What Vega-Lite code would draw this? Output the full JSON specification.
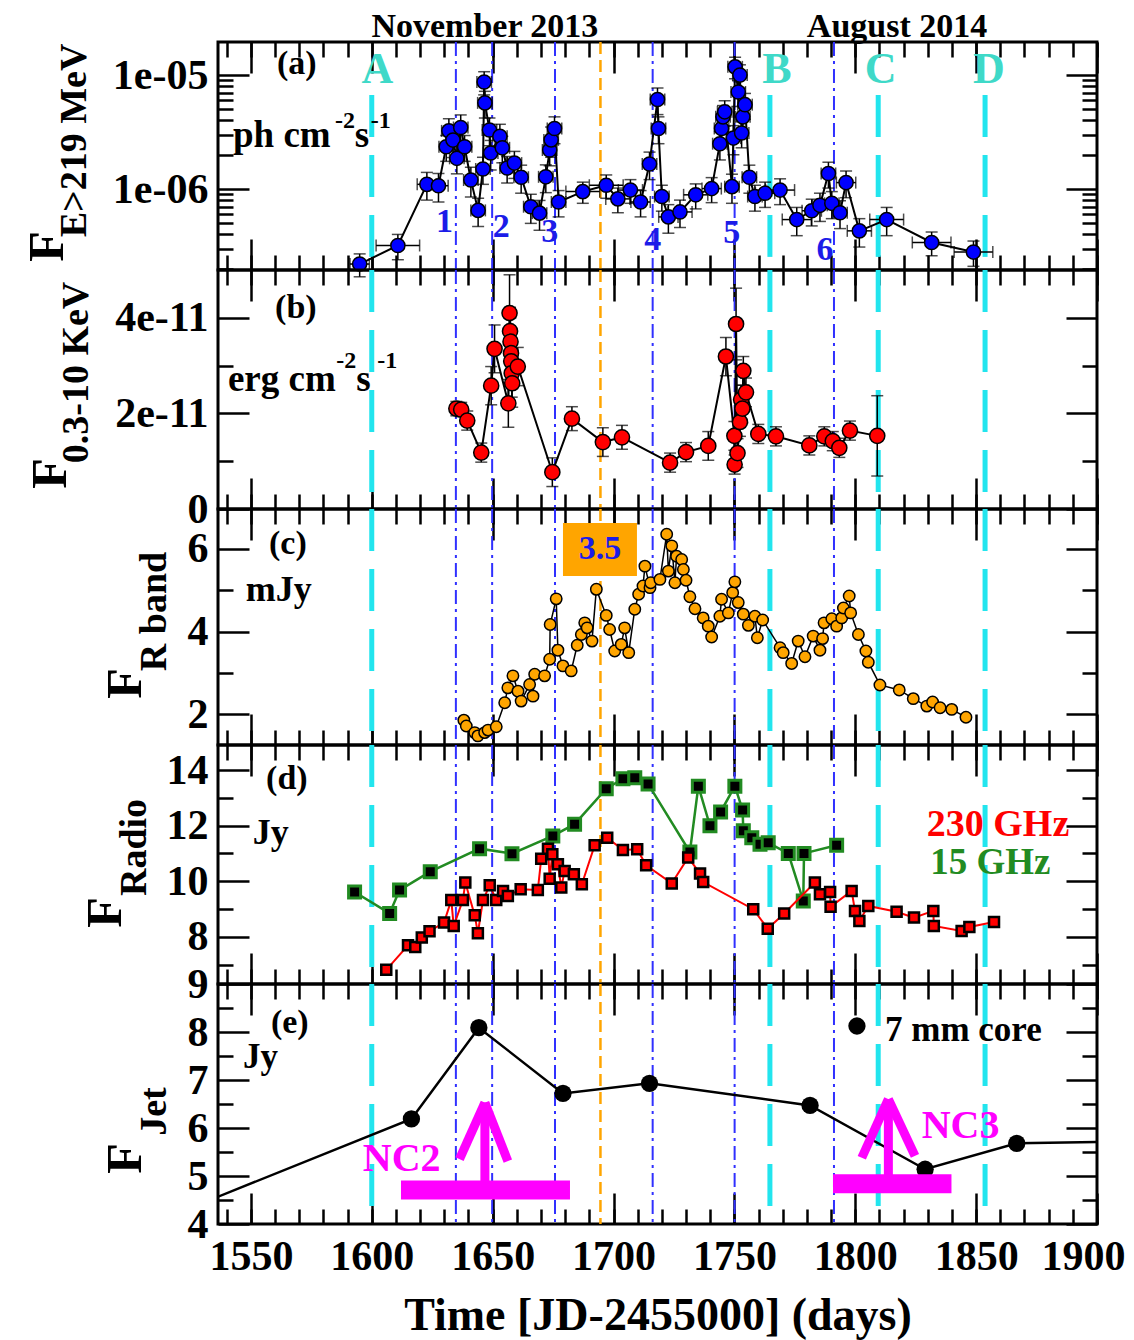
{
"$schema":"https://vega.github.io/schema/vega-lite/v6.json",
"background":"white",
"padding":{"left":20,"top":8,"right":5,"bottom":0},
"spacing":0,
"bounds":"flush",
"config":{
 "view":{"stroke":"black","strokeWidth":3},
 "axis":{"domain":false,"grid":false,"tickColor":"black","tickWidth":2.5,"labelFont":"Liberation Serif","labelFontWeight":"bold","labelFontSize":42,"labelColor":"black","labelOverlap":false,"labelFlush":false,"labelBound":false,"titleFont":"Liberation Serif","titleFontWeight":"bold","titleColor":"black"},
 "text":{"font":"Liberation Serif","fontWeight":"bold"}
},
"datasets":{
 "cyan":[{"x":1600},{"x":1764.7},{"x":1809.5},{"x":1853.7}],
 "blue":[{"x":1634.8},{"x":1649.8},{"x":1675.8},{"x":1716.2},{"x":1750.1},{"x":1791.2}],
 "orange":[{"x":1694.6}],
 "a":[
{"x":1595.0,"y":2.2e-7,"ex":4,"ey":0.5e-7},{"x":1610.8,"y":3.2e-7,"ex":9,"ey":0.8e-7},{"x":1622.8,"y":1.1e-6,"ex":4,"ey":0.3e-6},{"x":1627.6,"y":1.07e-6,"ex":4,"ey":0.3e-6},
{"x":1630.8,"y":2.35e-6,"ex":3,"ey":0.6e-6},{"x":1631.9,"y":3.24e-6,"ex":3,"ey":0.9e-6},{"x":1633.6,"y":2.69e-6,"ex":3,"ey":0.8e-6},{"x":1635.2,"y":1.86e-6,"ex":3,"ey":0.5e-6},
{"x":1636.8,"y":3.47e-6,"ex":3,"ey":1.0e-6},{"x":1638.4,"y":2.35e-6,"ex":3,"ey":0.6e-6},{"x":1641.0,"y":1.2e-6,"ex":3,"ey":0.35e-6},{"x":1644.0,"y":6.5e-7,"ex":3,"ey":1.8e-7},
{"x":1646.0,"y":1.5e-6,"ex":3,"ey":0.4e-6},{"x":1646.5,"y":8.7e-6,"ex":3,"ey":2.0e-6},{"x":1646.8,"y":5.7e-6,"ex":3,"ey":1.5e-6},{"x":1648.7,"y":3.3e-6,"ex":3,"ey":0.9e-6},
{"x":1649.2,"y":2.07e-6,"ex":3,"ey":0.6e-6},{"x":1653.0,"y":2.9e-6,"ex":3,"ey":0.8e-6},{"x":1654.0,"y":2.3e-6,"ex":3,"ey":0.6e-6},{"x":1656.0,"y":1.53e-6,"ex":3,"ey":0.4e-6},
{"x":1659.0,"y":1.69e-6,"ex":3,"ey":0.45e-6},{"x":1661.8,"y":1.27e-6,"ex":3,"ey":0.35e-6},{"x":1665.8,"y":7.0e-7,"ex":3,"ey":2.0e-7},{"x":1669.4,"y":6.15e-7,"ex":3,"ey":1.8e-7},
{"x":1672.0,"y":1.28e-6,"ex":3,"ey":0.35e-6},{"x":1673.6,"y":2.2e-6,"ex":3,"ey":0.6e-6},{"x":1674.2,"y":2.7e-6,"ex":3,"ey":0.8e-6},{"x":1675.6,"y":3.4e-6,"ex":3,"ey":0.9e-6},
{"x":1677.3,"y":7.7e-7,"ex":3,"ey":2.0e-7},{"x":1687.3,"y":9.5e-7,"ex":7,"ey":2.0e-7},{"x":1697.0,"y":1.08e-6,"ex":7,"ey":2.5e-7},{"x":1701.8,"y":8.2e-7,"ex":5,"ey":2.0e-7},
{"x":1707.0,"y":9.8e-7,"ex":5,"ey":2.3e-7},{"x":1711.2,"y":7.7e-7,"ex":4,"ey":2.0e-7},{"x":1714.9,"y":1.66e-6,"ex":3,"ey":0.45e-6},{"x":1718.2,"y":6.1e-6,"ex":3,"ey":1.6e-6},
{"x":1718.6,"y":3.4e-6,"ex":3,"ey":0.9e-6},{"x":1720.0,"y":8.6e-7,"ex":3,"ey":2.2e-7},{"x":1722.7,"y":5.7e-7,"ex":4,"ey":1.6e-7},{"x":1727.5,"y":6.3e-7,"ex":5,"ey":1.7e-7},
{"x":1734.0,"y":8.9e-7,"ex":5,"ey":2.2e-7},{"x":1740.6,"y":1.01e-6,"ex":4,"ey":2.5e-7},{"x":1744.0,"y":2.5e-6,"ex":3,"ey":0.7e-6},{"x":1744.7,"y":3.4e-6,"ex":3,"ey":0.9e-6},
{"x":1745.3,"y":4.3e-6,"ex":3,"ey":1.1e-6},{"x":1746.0,"y":4.76e-6,"ex":3,"ey":1.2e-6},{"x":1749.0,"y":1.05e-6,"ex":3,"ey":0.3e-6},{"x":1749.6,"y":2.8e-6,"ex":3,"ey":0.8e-6},
{"x":1750.3,"y":1.18e-5,"ex":3,"ey":2.5e-6},{"x":1751.6,"y":7.1e-6,"ex":3,"ey":1.8e-6},{"x":1752.3,"y":1.0e-5,"ex":3,"ey":2.3e-6},{"x":1753.0,"y":3.1e-6,"ex":3,"ey":0.8e-6},
{"x":1753.5,"y":4.3e-6,"ex":3,"ey":1.1e-6},{"x":1754.4,"y":5.5e-6,"ex":3,"ey":1.4e-6},{"x":1756.2,"y":1.27e-6,"ex":3,"ey":0.35e-6},{"x":1758.5,"y":8.6e-7,"ex":3,"ey":2.2e-7},
{"x":1762.7,"y":9.2e-7,"ex":4,"ey":2.3e-7},{"x":1768.9,"y":9.8e-7,"ex":6,"ey":2.5e-7},{"x":1775.8,"y":5.4e-7,"ex":6,"ey":1.5e-7},{"x":1782.0,"y":6.45e-7,"ex":4,"ey":1.7e-7},
{"x":1785.4,"y":7.2e-7,"ex":3,"ey":2.0e-7},{"x":1788.9,"y":1.37e-6,"ex":3,"ey":0.35e-6},{"x":1790.3,"y":7.5e-7,"ex":3,"ey":2.0e-7},{"x":1793.7,"y":6.2e-7,"ex":3,"ey":1.7e-7},
{"x":1796.2,"y":1.14e-6,"ex":4,"ey":0.3e-6},{"x":1801.7,"y":4.3e-7,"ex":5,"ey":1.2e-7},{"x":1813.0,"y":5.4e-7,"ex":7,"ey":1.5e-7},{"x":1831.6,"y":3.4e-7,"ex":8,"ey":0.8e-7},
{"x":1848.9,"y":2.8e-7,"ex":8,"ey":0.7e-7}],
 "b":[
{"x":1635.0,"y":2.1e-11,"ey":1.5e-12},{"x":1637.0,"y":2.08e-11,"ey":1.5e-12},{"x":1639.5,"y":1.85e-11,"ey":2e-12},{"x":1645.3,"y":1.18e-11,"ey":2e-12},
{"x":1649.4,"y":2.58e-11,"ey":4e-12},{"x":1650.8,"y":3.35e-11,"ey":5e-12},{"x":1656.5,"y":2.21e-11,"ey":5e-12},{"x":1657.0,"y":4.1e-11,"ey":8e-12},
{"x":1657.2,"y":3.72e-11,"ey":5e-12},{"x":1657.4,"y":3.5e-11,"ey":5e-12},{"x":1657.6,"y":3.26e-11,"ey":5e-12},{"x":1657.7,"y":3.09e-11,"ey":5e-12},
{"x":1657.9,"y":2.84e-11,"ey":5e-12},{"x":1658.1,"y":2.63e-11,"ey":5e-12},{"x":1660.4,"y":2.98e-11,"ey":4e-12},{"x":1674.7,"y":0.77e-11,"ey":3e-12},
{"x":1682.8,"y":1.89e-11,"ey":2.5e-12},{"x":1695.6,"y":1.4e-11,"ey":3e-12},{"x":1703.5,"y":1.5e-11,"ey":2.5e-12},{"x":1723.4,"y":0.97e-11,"ey":2e-12},
{"x":1730.0,"y":1.19e-11,"ey":2e-12},{"x":1739.2,"y":1.32e-11,"ey":3e-12},{"x":1746.5,"y":3.19e-11,"ey":4e-12},{"x":1750.0,"y":1.53e-11,"ey":3e-12},
{"x":1750.1,"y":0.93e-11,"ey":2e-12},{"x":1750.7,"y":3.87e-11,"ey":7.5e-12},{"x":1751.3,"y":1.17e-11,"ey":3e-12},{"x":1752.3,"y":1.82e-11,"ey":3e-12},
{"x":1752.8,"y":2.29e-11,"ey":3e-12},{"x":1753.3,"y":2.1e-11,"ey":3e-12},{"x":1753.7,"y":2.89e-11,"ey":3e-12},{"x":1754.8,"y":2.44e-11,"ey":3e-12},
{"x":1759.9,"y":1.57e-11,"ey":2e-12},{"x":1767.2,"y":1.52e-11,"ey":2e-12},{"x":1781.0,"y":1.33e-11,"ey":2e-12},{"x":1787.2,"y":1.52e-11,"ey":2e-12},
{"x":1790.7,"y":1.42e-11,"ey":2e-12},{"x":1793.4,"y":1.28e-11,"ey":2e-12},{"x":1797.8,"y":1.64e-11,"ey":2e-12},{"x":1809.1,"y":1.53e-11,"ey":8.4e-12}],
 "c":[
{"x":1638.1,"y":1.86},{"x":1639.1,"y":1.72},{"x":1642.6,"y":1.56},{"x":1643.9,"y":1.48},{"x":1646.7,"y":1.56},{"x":1648.1,"y":1.62},{"x":1651.5,"y":1.70},{"x":1655.0,"y":2.28},
{"x":1656.3,"y":2.64},{"x":1658.4,"y":2.93},{"x":1660.5,"y":2.56},{"x":1661.8,"y":2.32},{"x":1665.3,"y":2.72},{"x":1666.7,"y":2.44},{"x":1667.4,"y":2.97},{"x":1671.5,"y":2.93},
{"x":1673.6,"y":3.33},{"x":1673.8,"y":4.17},{"x":1676.3,"y":4.79},{"x":1677.0,"y":3.55},{"x":1679.1,"y":3.17},{"x":1682.5,"y":3.05},{"x":1685.0,"y":3.67},{"x":1686.7,"y":3.93},
{"x":1688.1,"y":4.21},{"x":1689.1,"y":4.09},{"x":1691.1,"y":3.77},{"x":1692.9,"y":5.02},{"x":1697.0,"y":4.39},{"x":1698.4,"y":4.05},{"x":1700.5,"y":3.53},{"x":1703.2,"y":3.69},
{"x":1704.6,"y":4.09},{"x":1706.3,"y":3.49},{"x":1708.8,"y":4.54},{"x":1710.4,"y":4.90},{"x":1712.2,"y":5.10},{"x":1713.0,"y":5.58},{"x":1715.1,"y":5.06},{"x":1715.4,"y":5.18},
{"x":1719.2,"y":5.26},{"x":1722.0,"y":6.35},{"x":1722.7,"y":5.46},{"x":1724.1,"y":6.07},{"x":1725.4,"y":5.18},{"x":1726.1,"y":5.82},{"x":1728.2,"y":5.74},{"x":1728.9,"y":5.50},
{"x":1730.0,"y":5.24},{"x":1731.6,"y":4.84},{"x":1733.7,"y":4.55},{"x":1737.1,"y":4.33},{"x":1739.2,"y":4.13},{"x":1740.6,"y":3.87},{"x":1744.0,"y":4.37},{"x":1744.7,"y":4.78},
{"x":1747.5,"y":4.45},{"x":1749.3,"y":4.94},{"x":1750.2,"y":5.20},{"x":1751.6,"y":4.70},{"x":1753.7,"y":4.42},{"x":1755.8,"y":4.15},{"x":1758.5,"y":4.37},{"x":1759.5,"y":3.85},
{"x":1761.7,"y":4.28},{"x":1768.9,"y":3.61},{"x":1770.2,"y":3.49},{"x":1773.7,"y":3.23},{"x":1776.4,"y":3.77},{"x":1779.2,"y":3.39},{"x":1782.6,"y":3.89},{"x":1785.4,"y":3.55},
{"x":1786.5,"y":3.83},{"x":1787.1,"y":4.21},{"x":1790.3,"y":4.31},{"x":1792.3,"y":4.13},{"x":1794.4,"y":4.33},{"x":1795.1,"y":4.57},{"x":1797.5,"y":4.86},{"x":1798.1,"y":4.45},
{"x":1801.3,"y":3.93},{"x":1804.4,"y":3.53},{"x":1805.4,"y":3.26},{"x":1810.2,"y":2.71},{"x":1818.2,"y":2.59},{"x":1824.0,"y":2.38},{"x":1829.6,"y":2.20},{"x":1832.0,"y":2.30},
{"x":1835.1,"y":2.16},{"x":1839.9,"y":2.12},{"x":1845.8,"y":1.93}],
 "dred":[
{"x":1606.0,"y":6.81},{"x":1615.0,"y":7.69},{"x":1618.0,"y":7.63},{"x":1620.7,"y":7.97},{"x":1623.9,"y":8.20},{"x":1629.9,"y":8.51},{"x":1632.9,"y":9.32},{"x":1633.9,"y":8.39},
{"x":1637.7,"y":9.32},{"x":1638.7,"y":9.95},{"x":1642.6,"y":8.77},{"x":1643.9,"y":8.13},{"x":1646.0,"y":9.32},{"x":1648.8,"y":9.85},{"x":1651.5,"y":9.32},{"x":1654.3,"y":9.65},
{"x":1656.3,"y":9.47},{"x":1661.6,"y":9.71},{"x":1668.7,"y":9.68},{"x":1670.1,"y":10.81},{"x":1672.9,"y":11.17},{"x":1673.6,"y":10.09},{"x":1674.7,"y":10.97},{"x":1677.0,"y":10.61},
{"x":1678.4,"y":9.77},{"x":1679.8,"y":10.37},{"x":1683.6,"y":10.25},{"x":1686.9,"y":9.89},{"x":1692.2,"y":11.29},{"x":1697.4,"y":11.56},{"x":1703.9,"y":11.12},{"x":1709.8,"y":11.15},
{"x":1713.5,"y":10.57},{"x":1724.1,"y":9.92},{"x":1730.9,"y":10.85},{"x":1735.8,"y":10.28},{"x":1737.1,"y":9.97},{"x":1757.8,"y":8.99},{"x":1763.8,"y":8.29},{"x":1770.6,"y":8.84},
{"x":1783.3,"y":9.95},{"x":1785.4,"y":9.53},{"x":1789.6,"y":9.61},{"x":1789.8,"y":9.08},{"x":1798.5,"y":9.65},{"x":1799.9,"y":8.93},{"x":1801.7,"y":8.57},{"x":1805.4,"y":9.11},
{"x":1817.1,"y":8.90},{"x":1824.3,"y":8.69},{"x":1832.3,"y":8.93},{"x":1832.5,"y":8.39},{"x":1844.0,"y":8.21},{"x":1847.2,"y":8.35},{"x":1857.4,"y":8.53}],
 "dgreen":[
{"x":1592.9,"y":9.61},{"x":1607.4,"y":8.84},{"x":1611.5,"y":9.68},{"x":1624.2,"y":10.34},{"x":1644.6,"y":11.17},{"x":1658.0,"y":10.99},{"x":1674.9,"y":11.63},{"x":1683.9,"y":12.05},
{"x":1697.0,"y":13.33},{"x":1703.9,"y":13.69},{"x":1708.8,"y":13.72},{"x":1714.3,"y":13.50},{"x":1731.6,"y":11.05},{"x":1735.1,"y":13.42},{"x":1739.9,"y":11.99},{"x":1744.3,"y":12.49},
{"x":1750.2,"y":13.42},{"x":1753.4,"y":12.56},{"x":1753.7,"y":11.81},{"x":1757.2,"y":11.56},{"x":1760.6,"y":11.33},{"x":1764.0,"y":11.38},{"x":1772.3,"y":11.0},{"x":1778.5,"y":9.29},
{"x":1778.8,"y":11.0},{"x":1792.3,"y":11.29}],
 "e":[{"x":1500,"y":3.83},{"x":1616.4,"y":6.19},{"x":1644.3,"y":8.09},{"x":1679.1,"y":6.72},{"x":1714.9,"y":6.93},{"x":1781.3,"y":6.47},{"x":1828.9,"y":5.14},{"x":1866.8,"y":5.68},{"x":1950,"y":5.75}],
 "bars":[{"x":1612.1,"x2":1682.0,"y":4.71},{"x":1790.8,"x2":1839.8,"y":4.84}],
 "arrows":[{"x":1646.8,"y":4.71,"x2":1646.8,"y2":6.53},{"x":1646.8,"y":6.53,"x2":1636.3,"y2":5.35},{"x":1646.8,"y":6.53,"x2":1656.3,"y2":5.31},
{"x":1813.7,"y":4.84,"x2":1813.7,"y2":6.60},{"x":1813.7,"y":6.60,"x2":1802.7,"y2":5.38},{"x":1813.7,"y":6.60,"x2":1824.7,"y2":5.42}]
},
"vconcat":[
{"width":879,"height":228,
 "resolve":{"axis":{"x":"independent","y":"independent"}},
 "layer":[
  {"data":{"values":[{}]},"mark":{"type":"point","opacity":0},"encoding":{
   "x":{"datum":1700,"type":"quantitative","scale":{"domain":[1536.4,1900],"nice":false,"zero":false},"axis":{"orient":"bottom","values":[1550,1600,1650,1700,1750,1800,1850,1900],"tickSize":-31,"labels":false,"title":null}},
   "y":{"datum":1e-6,"type":"quantitative","scale":{"type":"log","domain":[1.95e-7,1.95e-5],"nice":false},"axis":{"orient":"left","values":[1e-6,1e-5],"tickSize":-31,"labelPadding":41,"labelExpr":"datum.value > 5e-6 ? '1e-05' : '1e-06'","title":"F","titleFontSize":50,"titleAngle":-90,"titleX":-156,"titleY":204,"titleAlign":"center","titleBaseline":"alphabetic"}}}},
  {"data":{"values":[{}]},"mark":{"type":"point","opacity":0},"encoding":{
   "x":{"datum":1700,"type":"quantitative","axis":{"orient":"bottom","values":[1540,1550,1560,1570,1580,1590,1600,1610,1620,1630,1640,1650,1660,1670,1680,1690,1700,1710,1720,1730,1740,1750,1760,1770,1780,1790,1800,1810,1820,1830,1840,1850,1860,1870,1880,1890,1900],"tickSize":-15,"labels":false,"title":null}},
   "y":{"datum":1e-6,"type":"quantitative","axis":{"orient":"left","values":[2e-7,3e-7,4e-7,5e-7,6e-7,7e-7,8e-7,9e-7,2e-6,3e-6,4e-6,5e-6,6e-6,7e-6,8e-6,9e-6],"tickSize":-15,"labels":false,"title":"E>219 MeV","titleFontSize":38,"titleAngle":-90,"titleX":-133,"titleY":98,"titleAlign":"center","titleBaseline":"alphabetic"}}}},
  {"data":{"values":[{}]},"mark":{"type":"point","opacity":0},"encoding":{
   "x":{"datum":1700,"type":"quantitative","axis":{"orient":"top","values":[1550,1600,1650,1700,1750,1800,1850,1900],"tickSize":-31,"labels":false,"title":null}},
   "y":{"datum":1e-6,"type":"quantitative","axis":{"orient":"right","values":[1e-6,1e-5],"tickSize":-31,"labels":false,"title":null}}}},
  {"data":{"values":[{}]},"mark":{"type":"point","opacity":0},"encoding":{
   "x":{"datum":1700,"type":"quantitative","axis":{"orient":"top","values":[1540,1550,1560,1570,1580,1590,1600,1610,1620,1630,1640,1650,1660,1670,1680,1690,1700,1710,1720,1730,1740,1750,1760,1770,1780,1790,1800,1810,1820,1830,1840,1850,1860,1870,1880,1890,1900],"tickSize":-15,"labels":false,"title":null}},
   "y":{"datum":1e-6,"type":"quantitative","axis":{"orient":"right","values":[2e-7,3e-7,4e-7,5e-7,6e-7,7e-7,8e-7,9e-7,2e-6,3e-6,4e-6,5e-6,6e-6,7e-6,8e-6,9e-6],"tickSize":-15,"labels":false,"title":null}}}},
  {"data":{"name":"cyan"},"mark":{"type":"rule","color":"#22E5EE","strokeWidth":5,"strokeDash":[42,18]},"encoding":{"x":{"field":"x","type":"quantitative","axis":null},"y":{"datum":6.7e-6,"type":"quantitative","axis":null},"y2":{"datum":1.95e-7}}},
  {"data":{"name":"blue"},"mark":{"type":"rule","color":"#3030FF","strokeWidth":2,"strokeDash":[14,5,3,5]},"encoding":{"x":{"field":"x","type":"quantitative","axis":null}}},
  {"data":{"name":"orange"},"mark":{"type":"rule","color":"#FFA500","strokeWidth":2.5,"strokeDash":[12,6]},"encoding":{"x":{"field":"x","type":"quantitative","axis":null}}},
  {"data":{"name":"a"},"mark":{"type":"line","color":"black","strokeWidth":2},"encoding":{"x":{"field":"x","type":"quantitative","axis":null},"y":{"field":"y","type":"quantitative","axis":null}}},
  {"data":{"name":"a"},"mark":{"type":"errorbar","color":"black","thickness":1.5,"ticks":{"size":12}},"encoding":{"x":{"field":"x","type":"quantitative","axis":null},"xError":{"field":"ex"},"y":{"field":"y","type":"quantitative","axis":null}}},
  {"data":{"name":"a"},"mark":{"type":"errorbar","color":"black","thickness":1.5,"ticks":{"size":12}},"encoding":{"x":{"field":"x","type":"quantitative","axis":null},"y":{"field":"y","type":"quantitative","axis":null},"yError":{"field":"ey"}}},
  {"data":{"name":"a"},"mark":{"type":"point","shape":"circle","filled":true,"fill":"#0000FF","stroke":"black","strokeWidth":1.5,"size":200,"opacity":1},"encoding":{"x":{"field":"x","type":"quantitative","axis":null},"y":{"field":"y","type":"quantitative","axis":null}}},
  {"data":{"values":[{"t":"(a)","x":1569,"y":1.25e-5}]},"mark":{"type":"text","fontSize":34,"align":"center","baseline":"middle","color":"black"},"encoding":{"x":{"field":"x","type":"quantitative","axis":null},"y":{"field":"y","type":"quantitative","axis":null},"text":{"field":"t"}}},
  {"data":{"values":[{"t":"ph cm","x":1542.6,"y":2.35e-6},{"t":"s","x":1593,"y":2.35e-6}]},"mark":{"type":"text","fontSize":37,"align":"left","baseline":"alphabetic","color":"black"},"encoding":{"x":{"field":"x","type":"quantitative","axis":null},"y":{"field":"y","type":"quantitative","axis":null},"text":{"field":"t"}}},
  {"data":{"values":[{"t":"-2","x":1584.8,"y":3.43e-6},{"t":"-1","x":1599.6,"y":3.43e-6}]},"mark":{"type":"text","fontSize":24,"align":"left","baseline":"alphabetic","color":"black"},"encoding":{"x":{"field":"x","type":"quantitative","axis":null},"y":{"field":"y","type":"quantitative","axis":null},"text":{"field":"t"}}},
  {"data":{"values":[{"t":"A","x":1602.3},{"t":"B","x":1767.6},{"t":"C","x":1810.5},{"t":"D","x":1855.3}]},"mark":{"type":"text","fontSize":44,"align":"center","baseline":"middle","color":"#3FD9C8"},"encoding":{"x":{"field":"x","type":"quantitative","axis":null},"y":{"datum":1.1e-5,"type":"quantitative","axis":null},"text":{"field":"t"}}},
  {"data":{"values":[{"t":"1","x":1630.1,"y":5.17e-7},{"t":"2","x":1653.6,"y":4.67e-7},{"t":"3","x":1673.6,"y":4.22e-7},{"t":"4","x":1716.2,"y":3.57e-7},{"t":"5","x":1748.9,"y":4.08e-7},{"t":"6","x":1787.5,"y":2.92e-7}]},"mark":{"type":"text","fontSize":34,"align":"center","baseline":"middle","color":"#1C1CE8"},"encoding":{"x":{"field":"x","type":"quantitative","axis":null},"y":{"field":"y","type":"quantitative","axis":null},"text":{"field":"t"}}},
  {"data":{"values":[{"t":"November 2013","x":1646.8},{"t":"August 2014","x":1817.3}]},"mark":{"type":"text","fontSize":34,"align":"center","baseline":"alphabetic","color":"black"},"encoding":{"x":{"field":"x","type":"quantitative","axis":null},"y":{"datum":2.15e-5,"type":"quantitative","axis":null},"text":{"field":"t"}}}
 ]},
{"width":879,"height":239,
 "resolve":{"axis":{"x":"independent","y":"independent"}},
 "layer":[
  {"data":{"values":[{}]},"mark":{"type":"point","opacity":0},"encoding":{
   "x":{"datum":1700,"type":"quantitative","scale":{"domain":[1536.4,1900],"nice":false,"zero":false},"axis":{"orient":"bottom","values":[1550,1600,1650,1700,1750,1800,1850,1900],"tickSize":-31,"labels":false,"title":null}},
   "y":{"datum":1e-11,"type":"quantitative","scale":{"domain":[0,5e-11],"nice":false,"zero":false},"axis":{"orient":"left","values":[0,2e-11,4e-11],"tickSize":-31,"labelPadding":41,"labelExpr":"datum.value == 0 ? '0' : (datum.value < 3e-11 ? '2e-11' : '4e-11')","title":"F","titleFontSize":50,"titleAngle":-90,"titleX":-153,"titleY":203,"titleAlign":"center","titleBaseline":"alphabetic"}}}},
  {"data":{"values":[{}]},"mark":{"type":"point","opacity":0},"encoding":{
   "x":{"datum":1700,"type":"quantitative","axis":{"orient":"bottom","values":[1540,1550,1560,1570,1580,1590,1600,1610,1620,1630,1640,1650,1660,1670,1680,1690,1700,1710,1720,1730,1740,1750,1760,1770,1780,1790,1800,1810,1820,1830,1840,1850,1860,1870,1880,1890,1900],"tickSize":-15,"labels":false,"title":null}},
   "y":{"datum":1e-11,"type":"quantitative","axis":{"orient":"left","values":[1e-11,3e-11],"tickSize":-15,"labels":false,"title":"0.3-10 KeV","titleFontSize":38,"titleAngle":-90,"titleX":-131,"titleY":102,"titleAlign":"center","titleBaseline":"alphabetic"}}}},
  {"data":{"values":[{}]},"mark":{"type":"point","opacity":0},"encoding":{
   "x":{"datum":1700,"type":"quantitative","axis":{"orient":"top","values":[1550,1600,1650,1700,1750,1800,1850,1900],"tickSize":-31,"labels":false,"title":null}},
   "y":{"datum":1e-11,"type":"quantitative","axis":{"orient":"right","values":[0,2e-11,4e-11],"tickSize":-31,"labels":false,"title":null}}}},
  {"data":{"values":[{}]},"mark":{"type":"point","opacity":0},"encoding":{
   "x":{"datum":1700,"type":"quantitative","axis":{"orient":"top","values":[1540,1550,1560,1570,1580,1590,1600,1610,1620,1630,1640,1650,1660,1670,1680,1690,1700,1710,1720,1730,1740,1750,1760,1770,1780,1790,1800,1810,1820,1830,1840,1850,1860,1870,1880,1890,1900],"tickSize":-15,"labels":false,"title":null}},
   "y":{"datum":1e-11,"type":"quantitative","axis":{"orient":"right","values":[1e-11,3e-11],"tickSize":-15,"labels":false,"title":null}}}},
  {"data":{"name":"cyan"},"mark":{"type":"rule","color":"#22E5EE","strokeWidth":5,"strokeDash":[42,18]},"encoding":{"x":{"field":"x","type":"quantitative","axis":null}}},
  {"data":{"name":"blue"},"mark":{"type":"rule","color":"#3030FF","strokeWidth":2,"strokeDash":[14,5,3,5]},"encoding":{"x":{"field":"x","type":"quantitative","axis":null}}},
  {"data":{"name":"orange"},"mark":{"type":"rule","color":"#FFA500","strokeWidth":2.5,"strokeDash":[12,6]},"encoding":{"x":{"field":"x","type":"quantitative","axis":null}}},
  {"data":{"name":"b"},"mark":{"type":"line","color":"black","strokeWidth":2},"encoding":{"x":{"field":"x","type":"quantitative","axis":null},"y":{"field":"y","type":"quantitative","axis":null}}},
  {"data":{"name":"b"},"mark":{"type":"errorbar","color":"black","thickness":1.5,"ticks":{"size":12}},"encoding":{"x":{"field":"x","type":"quantitative","axis":null},"xError":{"value":5},"y":{"field":"y","type":"quantitative","axis":null}}},
  {"data":{"name":"b"},"mark":{"type":"errorbar","color":"black","thickness":1.5,"ticks":{"size":12}},"encoding":{"x":{"field":"x","type":"quantitative","axis":null},"y":{"field":"y","type":"quantitative","axis":null},"yError":{"field":"ey"}}},
  {"data":{"name":"b"},"mark":{"type":"point","shape":"circle","filled":true,"fill":"#FF0000","stroke":"black","strokeWidth":1.5,"size":230,"opacity":1},"encoding":{"x":{"field":"x","type":"quantitative","axis":null},"y":{"field":"y","type":"quantitative","axis":null}}},
  {"data":{"values":[{"t":"(b)","x":1568.6,"y":4.2e-11}]},"mark":{"type":"text","fontSize":34,"align":"center","baseline":"middle","color":"black"},"encoding":{"x":{"field":"x","type":"quantitative","axis":null},"y":{"field":"y","type":"quantitative","axis":null},"text":{"field":"t"}}},
  {"data":{"values":[{"t":"erg cm","x":1540.5,"y":2.46e-11},{"t":"s","x":1593.6,"y":2.46e-11}]},"mark":{"type":"text","fontSize":37,"align":"left","baseline":"alphabetic","color":"black"},"encoding":{"x":{"field":"x","type":"quantitative","axis":null},"y":{"field":"y","type":"quantitative","axis":null},"text":{"field":"t"}}},
  {"data":{"values":[{"t":"-2","x":1585.3,"y":2.95e-11},{"t":"-1","x":1602.3,"y":2.95e-11}]},"mark":{"type":"text","fontSize":24,"align":"left","baseline":"alphabetic","color":"black"},"encoding":{"x":{"field":"x","type":"quantitative","axis":null},"y":{"field":"y","type":"quantitative","axis":null},"text":{"field":"t"}}}
 ]},
{"width":879,"height":236,
 "resolve":{"axis":{"x":"independent","y":"independent"}},
 "layer":[
  {"data":{"values":[{}]},"mark":{"type":"point","opacity":0},"encoding":{
   "x":{"datum":1700,"type":"quantitative","scale":{"domain":[1536.4,1900],"nice":false,"zero":false},"axis":{"orient":"bottom","values":[1550,1600,1650,1700,1750,1800,1850,1900],"tickSize":-31,"labels":false,"title":null}},
   "y":{"datum":3,"type":"quantitative","scale":{"domain":[1.26,6.96],"nice":false,"zero":false},"axis":{"orient":"left","values":[2,4,6],"format":"d","tickSize":-31,"labelPadding":41,"title":"F","titleFontSize":50,"titleAngle":-90,"titleX":-78,"titleY":174,"titleAlign":"center","titleBaseline":"alphabetic"}}}},
  {"data":{"values":[{}]},"mark":{"type":"point","opacity":0},"encoding":{
   "x":{"datum":1700,"type":"quantitative","axis":{"orient":"bottom","values":[1540,1550,1560,1570,1580,1590,1600,1610,1620,1630,1640,1650,1660,1670,1680,1690,1700,1710,1720,1730,1740,1750,1760,1770,1780,1790,1800,1810,1820,1830,1840,1850,1860,1870,1880,1890,1900],"tickSize":-15,"labels":false,"title":null}},
   "y":{"datum":3,"type":"quantitative","axis":{"orient":"left","values":[3,5],"tickSize":-15,"labels":false,"title":"R band","titleFontSize":38,"titleAngle":-90,"titleX":-53,"titleY":102,"titleAlign":"center","titleBaseline":"alphabetic"}}}},
  {"data":{"values":[{}]},"mark":{"type":"point","opacity":0},"encoding":{
   "x":{"datum":1700,"type":"quantitative","axis":{"orient":"top","values":[1550,1600,1650,1700,1750,1800,1850,1900],"tickSize":-31,"labels":false,"title":null}},
   "y":{"datum":3,"type":"quantitative","axis":{"orient":"right","values":[2,4,6],"tickSize":-31,"labels":false,"title":null}}}},
  {"data":{"values":[{}]},"mark":{"type":"point","opacity":0},"encoding":{
   "x":{"datum":1700,"type":"quantitative","axis":{"orient":"top","values":[1540,1550,1560,1570,1580,1590,1600,1610,1620,1630,1640,1650,1660,1670,1680,1690,1700,1710,1720,1730,1740,1750,1760,1770,1780,1790,1800,1810,1820,1830,1840,1850,1860,1870,1880,1890,1900],"tickSize":-15,"labels":false,"title":null}},
   "y":{"datum":3,"type":"quantitative","axis":{"orient":"right","values":[3,5],"tickSize":-15,"labels":false,"title":null}}}},
  {"data":{"name":"cyan"},"mark":{"type":"rule","color":"#22E5EE","strokeWidth":5,"strokeDash":[42,18]},"encoding":{"x":{"field":"x","type":"quantitative","axis":null}}},
  {"data":{"name":"blue"},"mark":{"type":"rule","color":"#3030FF","strokeWidth":2,"strokeDash":[14,5,3,5]},"encoding":{"x":{"field":"x","type":"quantitative","axis":null}}},
  {"data":{"name":"orange"},"mark":{"type":"rule","color":"#FFA500","strokeWidth":2.5,"strokeDash":[12,6]},"encoding":{"x":{"field":"x","type":"quantitative","axis":null}}},
  {"data":{"values":[{"x":1679.1,"x2":1709.7,"y":5.34,"y2":6.62}]},"mark":{"type":"rect","color":"#FFA500","opacity":1},"encoding":{"x":{"field":"x","type":"quantitative","axis":null},"x2":{"field":"x2"},"y":{"field":"y","type":"quantitative","axis":null},"y2":{"field":"y2"}}},
  {"data":{"values":[{"t":"3.5","x":1694.4,"y":5.99}]},"mark":{"type":"text","fontSize":34,"align":"center","baseline":"middle","color":"#1C1CE8"},"encoding":{"x":{"field":"x","type":"quantitative","axis":null},"y":{"field":"y","type":"quantitative","axis":null},"text":{"field":"t"}}},
  {"data":{"name":"c"},"mark":{"type":"line","color":"black","strokeWidth":1.5},"encoding":{"x":{"field":"x","type":"quantitative","axis":null},"y":{"field":"y","type":"quantitative","axis":null}}},
  {"data":{"name":"c"},"mark":{"type":"errorbar","color":"black","thickness":1.5,"ticks":false},"encoding":{"x":{"field":"x","type":"quantitative","axis":null},"xError":{"value":5},"y":{"field":"y","type":"quantitative","axis":null}}},
  {"data":{"name":"c"},"mark":{"type":"point","shape":"circle","filled":true,"fill":"#FFA500","stroke":"black","strokeWidth":1.5,"size":130,"opacity":1},"encoding":{"x":{"field":"x","type":"quantitative","axis":null},"y":{"field":"y","type":"quantitative","axis":null}}},
  {"data":{"values":[{"t":"(c)","x":1565.3,"y":6.11}]},"mark":{"type":"text","fontSize":34,"align":"center","baseline":"middle","color":"black"},"encoding":{"x":{"field":"x","type":"quantitative","axis":null},"y":{"field":"y","type":"quantitative","axis":null},"text":{"field":"t"}}},
  {"data":{"values":[{"t":"mJy","x":1547.9,"y":4.74}]},"mark":{"type":"text","fontSize":36,"align":"left","baseline":"alphabetic","color":"black"},"encoding":{"x":{"field":"x","type":"quantitative","axis":null},"y":{"field":"y","type":"quantitative","axis":null},"text":{"field":"t"}}}
 ]},
{"width":879,"height":239,
 "resolve":{"axis":{"x":"independent","y":"independent"}},
 "layer":[
  {"data":{"values":[{}]},"mark":{"type":"point","opacity":0},"encoding":{
   "x":{"datum":1700,"type":"quantitative","scale":{"domain":[1536.4,1900],"nice":false,"zero":false},"axis":{"orient":"bottom","values":[1550,1600,1650,1700,1750,1800,1850,1900],"tickSize":-31,"labels":false,"title":null}},
   "y":{"datum":10,"type":"quantitative","scale":{"domain":[6.3,14.9],"nice":false,"zero":false},"axis":{"orient":"left","values":[8,10,12,14],"format":"d","tickSize":-31,"labelPadding":41,"title":"F","titleFontSize":50,"titleAngle":-90,"titleX":-98,"titleY":167,"titleAlign":"center","titleBaseline":"alphabetic"}}}},
  {"data":{"values":[{}]},"mark":{"type":"point","opacity":0},"encoding":{
   "x":{"datum":1700,"type":"quantitative","axis":{"orient":"bottom","values":[1540,1550,1560,1570,1580,1590,1600,1610,1620,1630,1640,1650,1660,1670,1680,1690,1700,1710,1720,1730,1740,1750,1760,1770,1780,1790,1800,1810,1820,1830,1840,1850,1860,1870,1880,1890,1900],"tickSize":-15,"labels":false,"title":null}},
   "y":{"datum":10,"type":"quantitative","axis":{"orient":"left","values":[7,9,11,13],"tickSize":-15,"labels":false,"title":"Radio","titleFontSize":38,"titleAngle":-90,"titleX":-73,"titleY":102,"titleAlign":"center","titleBaseline":"alphabetic"}}}},
  {"data":{"values":[{}]},"mark":{"type":"point","opacity":0},"encoding":{
   "x":{"datum":1700,"type":"quantitative","axis":{"orient":"top","values":[1550,1600,1650,1700,1750,1800,1850,1900],"tickSize":-31,"labels":false,"title":null}},
   "y":{"datum":10,"type":"quantitative","axis":{"orient":"right","values":[8,10,12,14],"tickSize":-31,"labels":false,"title":null}}}},
  {"data":{"values":[{}]},"mark":{"type":"point","opacity":0},"encoding":{
   "x":{"datum":1700,"type":"quantitative","axis":{"orient":"top","values":[1540,1550,1560,1570,1580,1590,1600,1610,1620,1630,1640,1650,1660,1670,1680,1690,1700,1710,1720,1730,1740,1750,1760,1770,1780,1790,1800,1810,1820,1830,1840,1850,1860,1870,1880,1890,1900],"tickSize":-15,"labels":false,"title":null}},
   "y":{"datum":10,"type":"quantitative","axis":{"orient":"right","values":[7,9,11,13],"tickSize":-15,"labels":false,"title":null}}}},
  {"data":{"name":"cyan"},"mark":{"type":"rule","color":"#22E5EE","strokeWidth":5,"strokeDash":[42,18]},"encoding":{"x":{"field":"x","type":"quantitative","axis":null}}},
  {"data":{"name":"blue"},"mark":{"type":"rule","color":"#3030FF","strokeWidth":2,"strokeDash":[14,5,3,5]},"encoding":{"x":{"field":"x","type":"quantitative","axis":null}}},
  {"data":{"name":"orange"},"mark":{"type":"rule","color":"#FFA500","strokeWidth":2.5,"strokeDash":[12,6]},"encoding":{"x":{"field":"x","type":"quantitative","axis":null}}},
  {"data":{"name":"dgreen"},"mark":{"type":"line","color":"#228B22","strokeWidth":2.5},"encoding":{"x":{"field":"x","type":"quantitative","axis":null},"y":{"field":"y","type":"quantitative","axis":null}}},
  {"data":{"name":"dgreen"},"mark":{"type":"errorbar","color":"#228B22","thickness":2,"ticks":{"size":14}},"encoding":{"x":{"field":"x","type":"quantitative","axis":null},"xError":{"value":7},"y":{"field":"y","type":"quantitative","axis":null}}},
  {"data":{"name":"dgreen"},"mark":{"type":"errorbar","color":"#228B22","thickness":2,"ticks":{"size":14}},"encoding":{"x":{"field":"x","type":"quantitative","axis":null},"y":{"field":"y","type":"quantitative","axis":null},"yError":{"value":0.5}}},
  {"data":{"name":"dgreen"},"mark":{"type":"point","shape":"square","filled":true,"fill":"black","stroke":"#228B22","strokeWidth":3,"size":144,"opacity":1},"encoding":{"x":{"field":"x","type":"quantitative","axis":null},"y":{"field":"y","type":"quantitative","axis":null}}},
  {"data":{"name":"dred"},"mark":{"type":"line","color":"#FF0000","strokeWidth":2},"encoding":{"x":{"field":"x","type":"quantitative","axis":null},"y":{"field":"y","type":"quantitative","axis":null}}},
  {"data":{"name":"dred"},"mark":{"type":"errorbar","color":"#333333","thickness":1.5,"ticks":{"size":10}},"encoding":{"x":{"field":"x","type":"quantitative","axis":null},"xError":{"value":6},"y":{"field":"y","type":"quantitative","axis":null}}},
  {"data":{"name":"dred"},"mark":{"type":"errorbar","color":"#333333","thickness":1.5,"ticks":{"size":10}},"encoding":{"x":{"field":"x","type":"quantitative","axis":null},"y":{"field":"y","type":"quantitative","axis":null},"yError":{"value":0.3}}},
  {"data":{"name":"dred"},"mark":{"type":"point","shape":"square","filled":true,"fill":"#FF0000","stroke":"black","strokeWidth":2.5,"size":100,"opacity":1},"encoding":{"x":{"field":"x","type":"quantitative","axis":null},"y":{"field":"y","type":"quantitative","axis":null}}},
  {"data":{"values":[{"t":"(d)","x":1564.9,"y":13.68}]},"mark":{"type":"text","fontSize":34,"align":"center","baseline":"middle","color":"black"},"encoding":{"x":{"field":"x","type":"quantitative","axis":null},"y":{"field":"y","type":"quantitative","axis":null},"text":{"field":"t"}}},
  {"data":{"values":[{"t":"Jy","x":1550.8,"y":11.33}]},"mark":{"type":"text","fontSize":36,"align":"left","baseline":"alphabetic","color":"black"},"encoding":{"x":{"field":"x","type":"quantitative","axis":null},"y":{"field":"y","type":"quantitative","axis":null},"text":{"field":"t"}}},
  {"data":{"values":[{"t":"230 GHz","x":1829.6,"y":11.63}]},"mark":{"type":"text","fontSize":38,"align":"left","baseline":"alphabetic","color":"#FF0000"},"encoding":{"x":{"field":"x","type":"quantitative","axis":null},"y":{"field":"y","type":"quantitative","axis":null},"text":{"field":"t"}}},
  {"data":{"values":[{"t":"15 GHz","x":1831,"y":10.25}]},"mark":{"type":"text","fontSize":37,"align":"left","baseline":"alphabetic","color":"#228B22"},"encoding":{"x":{"field":"x","type":"quantitative","axis":null},"y":{"field":"y","type":"quantitative","axis":null},"text":{"field":"t"}}}
 ]},
{"width":879,"height":240,
 "resolve":{"axis":{"x":"independent","y":"independent"}},
 "layer":[
  {"data":{"values":[{}]},"mark":{"type":"point","opacity":0},"encoding":{
   "x":{"datum":1700,"type":"quantitative","scale":{"domain":[1536.4,1900],"nice":false,"zero":false},"axis":{"orient":"bottom","values":[1550,1600,1650,1700,1750,1800,1850,1900],"format":"d","tickSize":-31,"labels":true,"labelFontSize":42,"labelPadding":43,"labelFlush":true,"labelFlushOffset":28,"title":"Time [JD-2455000] (days)","titleFontSize":46,"titleY":105,"titleBaseline":"alphabetic"}},
   "y":{"datum":6,"type":"quantitative","scale":{"domain":[4,9],"nice":false,"zero":false},"axis":{"orient":"left","values":[4,5,6,7,8,9],"format":"d","tickSize":-31,"labelPadding":41,"title":"F","titleFontSize":50,"titleAngle":-90,"titleX":-78,"titleY":174,"titleAlign":"center","titleBaseline":"alphabetic"}}}},
  {"data":{"values":[{}]},"mark":{"type":"point","opacity":0},"encoding":{
   "x":{"datum":1700,"type":"quantitative","axis":{"orient":"bottom","values":[1540,1550,1560,1570,1580,1590,1600,1610,1620,1630,1640,1650,1660,1670,1680,1690,1700,1710,1720,1730,1740,1750,1760,1770,1780,1790,1800,1810,1820,1830,1840,1850,1860,1870,1880,1890,1900],"tickSize":-15,"labels":false,"title":null}},
   "y":{"datum":6,"type":"quantitative","axis":{"orient":"left","values":[4.5,5.5,6.5,7.5,8.5],"tickSize":-15,"labels":false,"title":"Jet","titleFontSize":38,"titleAngle":-90,"titleX":-53,"titleY":127,"titleAlign":"center","titleBaseline":"alphabetic"}}}},
  {"data":{"values":[{}]},"mark":{"type":"point","opacity":0},"encoding":{
   "x":{"datum":1700,"type":"quantitative","axis":{"orient":"top","values":[1550,1600,1650,1700,1750,1800,1850,1900],"tickSize":-31,"labels":false,"title":null}},
   "y":{"datum":6,"type":"quantitative","axis":{"orient":"right","values":[4,5,6,7,8,9],"tickSize":-31,"labels":false,"title":null}}}},
  {"data":{"values":[{}]},"mark":{"type":"point","opacity":0},"encoding":{
   "x":{"datum":1700,"type":"quantitative","axis":{"orient":"top","values":[1540,1550,1560,1570,1580,1590,1600,1610,1620,1630,1640,1650,1660,1670,1680,1690,1700,1710,1720,1730,1740,1750,1760,1770,1780,1790,1800,1810,1820,1830,1840,1850,1860,1870,1880,1890,1900],"tickSize":-15,"labels":false,"title":null}},
   "y":{"datum":6,"type":"quantitative","axis":{"orient":"right","values":[4.5,5.5,6.5,7.5,8.5],"tickSize":-15,"labels":false,"title":null}}}},
  {"data":{"name":"cyan"},"mark":{"type":"rule","color":"#22E5EE","strokeWidth":5,"strokeDash":[42,18]},"encoding":{"x":{"field":"x","type":"quantitative","axis":null}}},
  {"data":{"name":"blue"},"mark":{"type":"rule","color":"#3030FF","strokeWidth":2,"strokeDash":[14,5,3,5]},"encoding":{"x":{"field":"x","type":"quantitative","axis":null}}},
  {"data":{"name":"orange"},"mark":{"type":"rule","color":"#FFA500","strokeWidth":2.5,"strokeDash":[12,6]},"encoding":{"x":{"field":"x","type":"quantitative","axis":null}}},
  {"data":{"name":"e"},"mark":{"type":"line","color":"black","strokeWidth":2.5,"clip":true},"encoding":{"x":{"field":"x","type":"quantitative","axis":null},"y":{"field":"y","type":"quantitative","axis":null}}},
  {"data":{"name":"e"},"mark":{"type":"errorbar","color":"black","thickness":2,"ticks":false,"clip":true},"encoding":{"x":{"field":"x","type":"quantitative","axis":null},"xError":{"value":3},"y":{"field":"y","type":"quantitative","axis":null}}},
  {"data":{"name":"e"},"mark":{"type":"point","shape":"circle","filled":true,"color":"black","size":300,"opacity":1,"clip":true},"encoding":{"x":{"field":"x","type":"quantitative","axis":null},"y":{"field":"y","type":"quantitative","axis":null}}},
  {"data":{"name":"bars"},"mark":{"type":"rule","color":"#FF00FF","strokeWidth":19,"strokeCap":"butt"},"encoding":{"x":{"field":"x","type":"quantitative","axis":null},"x2":{"field":"x2"},"y":{"field":"y","type":"quantitative","axis":null}}},
  {"data":{"name":"arrows"},"mark":{"type":"rule","color":"#FF00FF","strokeWidth":9,"strokeCap":"butt"},"encoding":{"x":{"field":"x","type":"quantitative","axis":null},"x2":{"field":"x2"},"y":{"field":"y","type":"quantitative","axis":null},"y2":{"field":"y2"}}},
  {"data":{"values":[{"x":1800.7,"y":8.125}]},"mark":{"type":"point","shape":"circle","filled":true,"color":"black","size":300,"opacity":1},"encoding":{"x":{"field":"x","type":"quantitative","axis":null},"y":{"field":"y","type":"quantitative","axis":null}}},
  {"data":{"values":[{"t":"(e)","x":1566.1,"y":8.19}]},"mark":{"type":"text","fontSize":34,"align":"center","baseline":"middle","color":"black"},"encoding":{"x":{"field":"x","type":"quantitative","axis":null},"y":{"field":"y","type":"quantitative","axis":null},"text":{"field":"t"}}},
  {"data":{"values":[{"t":"Jy","x":1546.7,"y":7.26},{"t":"7 mm core","x":1812.3,"y":7.81}]},"mark":{"type":"text","fontSize":35,"align":"left","baseline":"alphabetic","color":"black"},"encoding":{"x":{"field":"x","type":"quantitative","axis":null},"y":{"field":"y","type":"quantitative","axis":null},"text":{"field":"t"}}},
  {"data":{"values":[{"t":"NC2","x":1596.3,"y":5.1},{"t":"NC3","x":1827.5,"y":5.8}]},"mark":{"type":"text","fontSize":40,"align":"left","baseline":"alphabetic","color":"#FF00FF"},"encoding":{"x":{"field":"x","type":"quantitative","axis":null},"y":{"field":"y","type":"quantitative","axis":null},"text":{"field":"t"}}}
 ]}
]
}
